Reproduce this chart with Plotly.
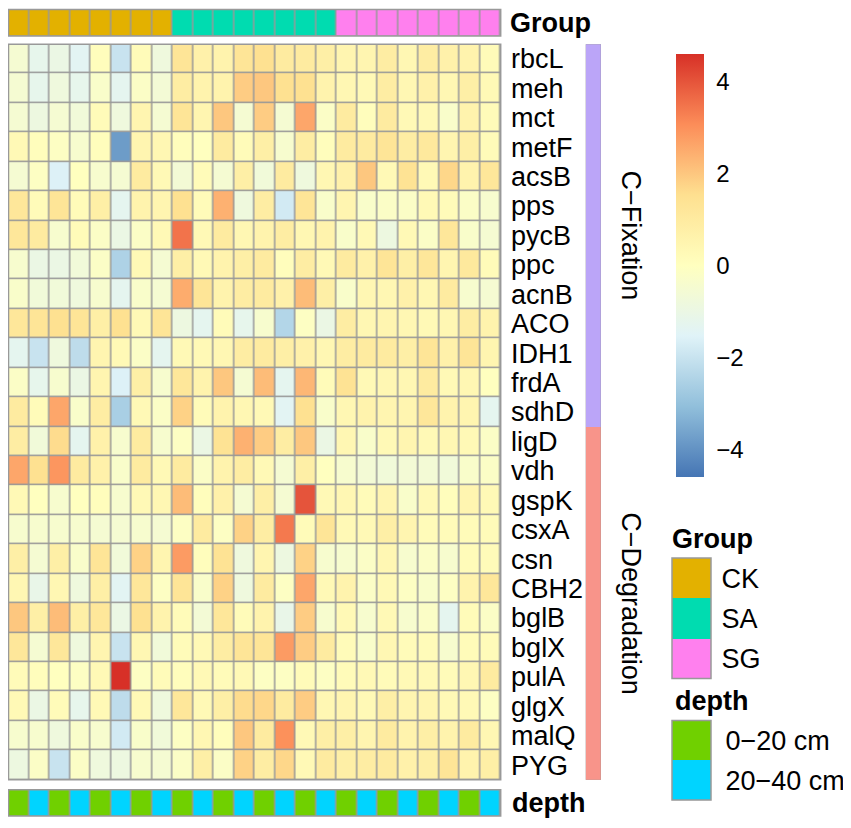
import plotly.graph_objects as go

# DATA
genes = ["rbcL", "meh", "mct", "metF", "acsB", "pps", "pycB", "ppc", "acnB", "ACO",
         "IDH1", "frdA", "sdhD", "ligD", "vdh", "gspK", "csxA", "csn", "CBH2", "bglB",
         "bglX", "pulA", "glgX", "malQ", "PYG"]
pathway = ["C−Fixation"] * 13 + ["C−Degradation"] * 12

groups = ["CK"] * 8 + ["SA"] * 8 + ["SG"] * 8
depths = ["0−20 cm", "20−40 cm"] * 12

rbcL = [-0.5, -1.2, -1.0, -1.4, 0.1, -2.0, 0.2, -0.8, 1.3, 0.7, 0.6, 1.3, 1.5, 1.0, 1.0, 0.8, 0.5, 0.5, 0.9, 0.4, 0.9, 0.7, 0.6, 0.2]
meh = [-0.5, -1.2, -0.8, -1.2, -0.3, -1.3, -0.2, -0.6, 0.9, 0.6, 0.6, 1.9, 2.0, 1.5, 1.5, 0.6, 0.4, 0.3, 0.9, 0.4, 0.7, 0.4, 0.8, 0.3]
mct = [-0.5, -0.9, -0.5, -0.7, 0.2, -0.8, 0.5, -0.5, 1.3, 0.5, 2.0, -0.5, 1.9, -0.5, 2.6, -0.2, 1.0, 0.1, 1.0, 0.3, 0.3, -0.3, 0.6, 0.2]
metF = [0.3, 0.1, -0.1, -0.4, 0.1, -3.8, 0.5, 0.4, 0.1, 0.0, 1.0, 0.2, 0.8, -0.4, 0.9, 0.1, 1.0, 1.0, 1.3, 0.9, 1.1, 0.5, 0.8, 0.2]
acsB = [-0.5, -0.1, -1.6, 0.0, -0.4, -0.5, 1.0, 0.3, -0.6, 0.2, -0.5, 0.8, -0.7, 1.0, -0.8, 0.4, 0.7, 2.0, 0.3, 1.4, 0.3, 1.7, 0.6, 1.2]
pps = [1.2, 0.2, 1.3, 0.2, 0.8, -1.3, 0.6, 0.5, 1.5, 0.2, 2.4, -0.8, 0.9, -1.8, 1.3, -0.3, 0.5, -0.3, -0.2, -0.2, 0.3, 0.2, -0.2, -0.4]
pycB = [1.2, 1.0, -0.4, 0.2, -0.2, -1.0, -0.2, 0.3, 3.5, 0.3, 1.0, 0.4, 0.6, 0.9, 0.4, 0.6, -0.3, 0.3, -0.9, 0.3, -0.2, 1.2, -0.3, -0.5]
ppc = [-0.4, -1.0, -1.0, -0.7, -0.2, -2.5, 0.3, -0.5, 0.8, 0.3, 0.6, 0.8, 1.0, 0.1, 0.9, 0.3, 1.0, 0.7, 1.3, 0.8, 1.2, 0.5, 1.1, 0.2]
acnB = [-0.3, -0.7, -0.7, -0.8, -0.4, -1.3, -0.3, -0.5, 2.5, 1.3, 0.6, 0.9, 1.0, 0.7, 2.2, 0.8, -0.3, 0.4, 0.4, 0.7, 0.4, 1.0, -0.4, -0.5]
ACO = [1.2, 1.3, 1.5, 1.3, 0.8, 1.5, 0.3, 1.3, -0.9, -1.3, 0.2, -1.2, -0.4, -2.4, -0.1, -1.0, 0.9, 0.4, 0.5, 0.4, 0.3, 0.4, 0.9, 0.6]
IDH1 = [-1.3, -2.0, -0.8, -2.2, 0.5, 0.3, -0.2, -1.3, 0.3, 0.3, 0.4, 0.9, 1.0, 0.8, 0.7, 0.4, 0.9, 1.0, 1.0, 0.8, 1.3, 0.7, 1.3, 0.5]
frdA = [-0.2, -1.2, -0.4, -1.0, 0.5, -1.6, 0.8, -0.4, 1.2, 0.6, 2.0, -0.5, 2.2, -1.3, 2.3, 0.2, 1.4, 0.3, 0.4, 0.4, 1.0, 0.3, 0.4, 0.0]
sdhD = [1.0, 0.2, 2.6, -0.3, 0.9, -2.6, 0.3, -0.2, 1.8, 0.2, 0.6, 0.4, 0.3, -1.4, 1.5, -0.3, 0.4, 0.6, 0.5, 0.5, 1.2, 0.6, 0.5, -1.3]
ligD = [0.9, -0.7, 1.6, -1.3, 0.7, -0.4, 1.0, -0.4, -0.1, -1.0, 1.4, 2.4, 1.9, 0.9, 2.0, -1.0, 0.4, -0.3, 0.3, 0.5, 0.3, 0.4, 0.3, -0.2]
vdh = [2.6, 1.5, 2.9, 1.0, 0.7, -0.3, 1.0, 0.3, 1.0, -0.2, 0.6, 0.9, 0.3, -0.5, 0.8, 0.0, -0.4, -0.6, -0.7, -0.6, -0.6, -0.7, -0.3, -0.2]
gspK = [0.3, 0.0, -0.4, 0.0, 0.1, -0.4, 0.3, 0.4, 2.2, 0.1, 0.7, -0.5, 0.8, -0.5, 4.0, 0.3, 0.4, 0.2, 0.5, -0.3, 0.3, 0.1, 0.5, 0.3]
csxA = [-0.4, -0.4, -0.4, -0.4, -0.5, -0.5, -0.4, -0.5, -0.1, 1.0, -0.1, 1.8, 0.9, 3.4, 0.2, 1.3, 0.3, 0.3, 0.8, 0.5, 0.2, 0.2, 0.2, 0.2]
csn = [0.8, -0.5, 0.8, -0.3, 1.3, -0.7, 1.8, 0.5, 2.8, 0.1, 1.4, -0.8, 0.5, -0.9, 1.8, -0.4, -0.4, -0.2, 0.4, -0.4, -0.2, -0.4, 0.2, 0.2]
CBH2 = [0.4, -1.1, 0.4, -0.8, 0.8, -1.4, 1.2, -0.1, 1.3, -0.3, 1.8, -0.8, 1.0, -0.1, 2.6, 0.3, 0.6, -0.2, 0.3, -0.1, -0.3, -0.1, 0.6, 1.2]
bglB = [2.0, 0.8, 2.2, 0.8, 1.2, -1.0, 1.5, 0.6, 0.2, -0.6, 1.2, 0.2, 0.6, -1.1, 1.9, -0.4, 0.3, -0.4, 0.3, -0.4, -0.2, -1.3, 0.2, -0.2]
bglX = [1.2, -0.5, 1.2, -0.8, 0.5, -2.0, 0.4, -0.7, 0.2, 0.3, 0.9, 1.3, 1.3, 2.8, 1.9, 1.0, 0.2, -0.3, 0.4, 0.2, 0.2, -0.4, 0.2, 0.2]
pulA = [0.2, 0.1, 0.0, -0.1, 0.3, 4.6, -0.1, 0.2, 0.1, 0.3, 0.2, 0.3, -0.1, -0.1, 0.2, -0.1, 0.2, 0.3, 0.2, 0.3, 0.3, 0.2, 0.4, 1.0]
glgX = [0.3, -1.0, 0.2, -1.2, 0.3, -2.2, 0.3, -0.8, 1.2, 0.3, 0.8, 1.6, 1.7, 1.0, 1.9, 0.4, 0.5, 0.3, 0.8, 0.5, 0.5, 0.3, 0.3, -0.1]
malQ = [-0.4, -0.4, -0.8, -0.3, -0.4, -1.8, -0.3, -0.7, -0.1, 0.4, 0.1, 2.0, 1.0, 3.0, 0.3, 0.8, 0.8, 0.5, 1.0, 0.6, 0.8, 0.6, 1.0, 0.4]
PYG = [-0.9, -0.2, -2.0, -0.2, -0.8, -0.9, -0.4, -0.5, -0.2, 0.8, -0.2, 1.8, 0.9, 1.7, 0.3, 1.0, 0.8, 0.9, 1.0, 0.7, 0.8, 1.3, 0.6, 0.8]

values = [rbcL, meh, mct, metF, acsB, pps, pycB, ppc, acnB, ACO, IDH1, frdA, sdhD,
          ligD, vdh, gspK, csxA, csn, CBH2, bglB, bglX, pulA, glgX, malQ, PYG]

# STYLE
FONT = "Liberation Sans, Arial, sans-serif"
GRID = "#999999"
heat_colors = ["#4575B4", "#91BFDB", "#E0F3F8", "#FFFFBF", "#FEE090", "#FC8D59", "#D73027"]
group_colors = {"CK": "#E3B100", "SA": "#00DCB0", "SG": "#FF80EE"}
depth_colors = {"0−20 cm": "#70D000", "20−40 cm": "#00D4FF"}
path_colors = {"C−Fixation": "#BBA5F8", "C−Degradation": "#F8948A"}

# the page puts the figure 8px in from the top-left corner
OFF = 8
W, H = 851 - OFF, 828 - OFF


def px(x):
    return min(1, max(0, (x - OFF) / W))


def py(y):
    return min(1, max(0, 1 - (y - OFF) / H))


samples = [f"{g}{i}" for i, g in enumerate(groups)]


def discrete_scale(colors):
    n = len(colors)
    scale = []
    for i, c in enumerate(colors):
        scale.append([i / n, c])
        scale.append([(i + 1) / n, c])
    return scale


def codes(labels, order):
    return [order.index(v) for v in labels]


g_order = list(group_colors)
d_order = list(depth_colors)
p_order = list(path_colors)

fig = go.Figure()

# main heatmap
fig.add_trace(go.Heatmap(
    z=values, x=samples, y=genes, xaxis="x", yaxis="y",
    colorscale=[[i / 6, c] for i, c in enumerate(heat_colors)],
    zmin=-4.6, zmax=4.6, xgap=1.5, ygap=1.5,
    colorbar=dict(x=px(676), xanchor="left", xpad=0, y=py(265.5), yanchor="middle",
                  lenmode="pixels", len=423, ypad=0, thickness=28, outlinewidth=0,
                  tickvals=[-4, -2, 0, 2, 4], ticks="outside", ticklen=8,
                  tickcolor="rgba(0,0,0,0)", tickfont=dict(size=24, family=FONT, color="black")),
))

# column annotations
fig.add_trace(go.Heatmap(
    z=[codes(groups, g_order)], x=samples, y=["Group"], xaxis="x", yaxis="y2",
    colorscale=discrete_scale(list(group_colors.values())), zmin=-0.5, zmax=2.5,
    showscale=False, xgap=1.5,
))
fig.add_trace(go.Heatmap(
    z=[codes(depths, d_order)], x=samples, y=["depth"], xaxis="x", yaxis="y3",
    colorscale=discrete_scale(list(depth_colors.values())), zmin=-0.5, zmax=1.5,
    showscale=False, xgap=1.5,
))

# row annotation
fig.add_trace(go.Heatmap(
    z=[[c] for c in codes(pathway, p_order)], x=["pathway"], y=genes, xaxis="x2", yaxis="y",
    colorscale=discrete_scale(list(path_colors.values())), zmin=-0.5, zmax=1.5,
    showscale=False,
))

# legends for annotations
fig.add_trace(go.Heatmap(
    z=[[i] for i in range(len(g_order))], x=["k"], y=g_order, xaxis="x3", yaxis="y4",
    colorscale=discrete_scale(list(group_colors.values())), zmin=-0.5, zmax=2.5,
    showscale=False,
))
fig.add_trace(go.Heatmap(
    z=[[i] for i in range(len(d_order))], x=["k"], y=d_order, xaxis="x3", yaxis="y5",
    colorscale=discrete_scale(list(depth_colors.values())), zmin=-0.5, zmax=1.5,
    showscale=False,
))

hidden = dict(showticklabels=False, showgrid=False, zeroline=False, ticks="", showline=False)
label_font = dict(size=27, family=FONT, color="black")
bold_font = dict(size=27, family=FONT, color="black", weight="bold")


def side_axis(lo, hi, anchor, cats, font, ticklen=4, rev=True):
    ax = dict(domain=[py(hi), py(lo)], anchor=anchor, side="right", showgrid=False,
              zeroline=False, ticks="outside", ticklen=ticklen, tickcolor="rgba(0,0,0,0)",
              tickmode="array", tickvals=cats, ticktext=cats, tickfont=font)
    if rev:
        ax["autorange"] = "reversed"
    return ax


fig.update_layout(
    width=W, height=H, margin=dict(l=0, r=0, t=0, b=0),
    paper_bgcolor="white", plot_bgcolor=GRID, font=dict(family=FONT),
    xaxis=dict(domain=[px(8.5), px(500.7)], anchor="y", **hidden),
    xaxis2=dict(domain=[px(585.7), px(601)], anchor="y", **hidden),
    xaxis3=dict(domain=[px(672), px(711)], anchor="y4", **hidden),
    yaxis=side_axis(43.3, 781.7, "x", genes, label_font, ticklen=4),
    yaxis2=side_axis(8.5, 35, "x", ["Group"], bold_font, ticklen=3),
    yaxis3=side_axis(791.7, 818, "x", ["depth"], bold_font, ticklen=5),
    yaxis4=side_axis(559, 680, "x3", g_order, dict(size=27, family=FONT, color="black"), ticklen=4),
    yaxis5=side_axis(722, 802, "x3", d_order, dict(size=27, family=FONT, color="black"), ticklen=8),
)

# outer borders of the cell blocks
for xa, ya in [("x", "y"), ("x", "y2"), ("x", "y3"), ("x3", "y4"), ("x3", "y5")]:
    fig.add_shape(type="rect", xref=f"{xa} domain", yref=f"{ya} domain",
                  x0=0, x1=1, y0=0, y1=1, line=dict(color=GRID, width=1.5))

# row annotation labels
for name in p_order:
    idx = [i for i, p in enumerate(pathway) if p == name]
    fig.add_annotation(text=name, textangle=90, xref="paper", yref="y",
                       x=px(631), y=(idx[0] + idx[-1]) / 2, xanchor="center",
                       yanchor="middle", showarrow=False,
                       font=dict(size=27, family=FONT, color="black"))

# legend titles
fig.add_annotation(text="Group", xref="paper", yref="paper", x=px(670), y=py(540),
                   xanchor="left", yanchor="middle", showarrow=False, font=bold_font)
fig.add_annotation(text="depth", xref="paper", yref="paper", x=px(673), y=py(703),
                   xanchor="left", yanchor="middle", showarrow=False, font=bold_font)

fig.write_html("out.html")
